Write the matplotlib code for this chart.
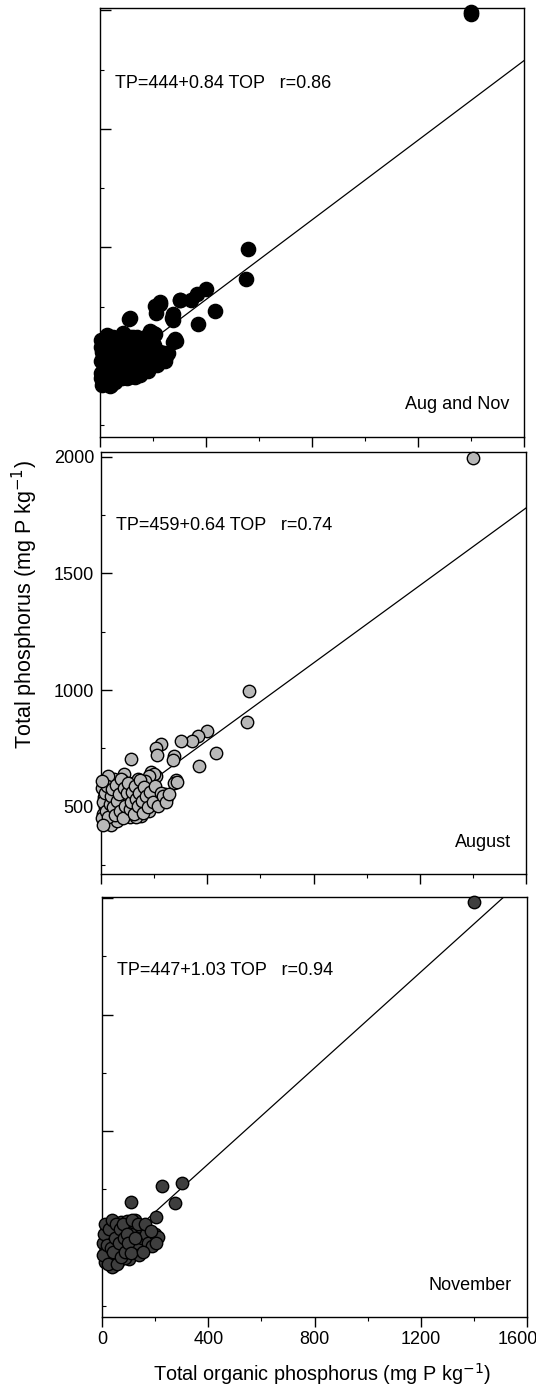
import matplotlib
matplotlib.use("Agg")
import matplotlib.pyplot as plt
from matplotlib.ticker import MultipleLocator
from matplotlib.transforms import ScaledTranslation
import numpy as np

plt.rcParams['font.family'] = ['Liberation Sans', 'DejaVu Sans']

# ---------------- data ----------------
aug_top = [1400, 557, 550, 433, 399, 365, 343, 301, 226, 207, 211, 275, 271, 113, 369,
           282, 275, 285, 207, 188, 200, 180,
           5, 10, 15, 8, 20, 12, 25, 30, 35, 40, 45, 50, 55, 60, 65, 70, 75, 80, 85, 90,
           95, 100, 105, 110, 115, 120, 125, 130, 135, 140, 145, 150, 155, 160, 165, 170,
           175, 180, 190, 200, 210, 220, 230, 240, 250, 38, 60, 18, 28, 88, 70, 112, 150,
           22, 48, 78, 132, 168,
           3, 7, 14, 18, 24, 28, 33, 37, 43, 47, 52, 57, 62, 67, 72, 77, 82, 87, 92, 97,
           102, 108, 113, 118, 123, 128, 133, 138, 143, 148, 153, 158, 163, 170, 178, 185,
           195, 205, 215, 225, 235, 245, 255, 3, 8]
aug_tp = [1995, 995, 865, 732, 825, 805, 780, 780, 770, 753, 723, 718, 700, 703, 676,
          613, 600, 605, 634, 647, 640, 630,
          580, 540, 500, 470, 450, 430, 520, 560, 600, 480, 440, 620, 510, 570, 460, 530,
          590, 495, 550, 610, 470, 520, 580, 455, 540, 600, 500, 560, 470, 620, 530, 590,
          490, 550, 610, 510, 570, 480, 540, 560, 520, 545, 530, 555, 540, 423, 440, 610,
          630, 640, 500, 480, 460, 560, 585, 615, 455, 525,
          450, 520, 560, 480, 590, 455, 510, 545, 575, 500, 465, 595, 525, 555, 480, 620,
          450, 580, 505, 560, 600, 490, 520, 565, 470, 590, 535, 505, 560, 615, 525, 475,
          585, 545, 500, 565, 520, 590, 505, 560, 545, 520, 555, 610, 420]

nov_top = [1400, 301, 226, 109, 275, 203, 196, 180,
           5, 10, 15, 20, 25, 30, 35, 40, 45, 50, 55, 60, 65, 70, 75, 80, 85, 90, 95, 100,
           105, 110, 115, 120, 125, 130, 140, 145, 150, 165, 175, 190, 200, 210, 60, 30, 12,
           38, 85, 118,
           3, 8, 13, 18, 23, 28, 33, 38, 43, 48, 53, 58, 63, 68, 73, 78, 83, 88, 93, 98,
           108, 113, 123, 135, 155, 160, 185, 205]
nov_tp = [1985, 778, 763, 697, 692, 630, 553, 545,
          520, 480, 560, 450, 500, 540, 470, 420, 590, 510, 460, 560, 490, 610, 530, 470,
          580, 510, 615, 450, 550, 600, 490, 570, 620, 520, 470, 590, 540, 560, 520, 505,
          560, 545, 440, 600, 440, 417, 455, 610,
          470, 560, 600, 510, 430, 580, 500, 620, 480, 540, 600, 430, 520, 580, 460, 600,
          540, 480, 560, 520, 475, 620, 540, 600, 480, 600, 570, 520]

# panel order: Aug and Nov, August, November
panel_labels = ["Aug and Nov", "August", "November"]
equations = ["TP=444+0.84 TOP   r=0.86", "TP=459+0.64 TOP   r=0.74", "TP=447+1.03 TOP   r=0.94"]
line_intercepts = [444, 452, 447]   # fitted lines as drawn
line_slopes = [0.84, 0.83, 1.03]

x_ticks = [0, 400, 800, 1200, 1600]
y_ticks = [500, 1000, 1500, 2000]
x_label = "Total organic phosphorus (mg P kg$^{-1}$)"
y_label = "Total phosphorus (mg P kg$^{-1}$)"

# ---------------- figure ----------------
W, H = 536, 1387
fig = plt.figure(figsize=(W / 100, H / 100), dpi=100)


def box(l, t, r, b):
    return [l / W, 1 - b / H, (r - l) / W, (b - t) / H]


axes = [fig.add_axes(box(100, 8, 524, 437)),
        fig.add_axes(box(101, 452, 526, 874)),
        fig.add_axes(box(102, 897, 527, 1317))]
ylims = [(200, 2010), (212, 2020), (202, 2005)]

series = [
    (aug_top + nov_top, aug_tp + nov_tp, "black", 105),
    (aug_top, aug_tp, "#b8b8b8", 80),
    (nov_top, nov_tp, "#3e3e3e", 80),
]

for i, ax in enumerate(axes):
    xs, ys, col, s = series[i]
    xl = np.array([0, 1600])
    ax.plot(xl, line_intercepts[i] + line_slopes[i] * xl, color="black", lw=0.9, zorder=2)
    ax.scatter(xs, ys, s=s, c=col, edgecolors="black", linewidths=1.0, zorder=3,
               clip_on=False)
    ax.set_xlim(0, 1600)
    ax.set_ylim(*ylims[i])
    ax.xaxis.set_major_locator(MultipleLocator(400))
    ax.xaxis.set_minor_locator(MultipleLocator(200))
    ax.yaxis.set_major_locator(MultipleLocator(500))
    ax.yaxis.set_minor_locator(MultipleLocator(250))
    ax.tick_params(axis="x", which="major", direction="out", length=7, width=1.0,
                   labelsize=13, pad=3)
    ax.tick_params(axis="x", which="minor", direction="out", length=3, width=0.8)
    ax.tick_params(axis="y", which="major", direction="in", length=8, width=1.0,
                   labelsize=13, pad=5)
    ax.tick_params(axis="y", which="minor", direction="in", length=3, width=0.8)
    for sp in ax.spines.values():
        sp.set_linewidth(1.0)
    ax.text(0.035, 0.825, equations[i], transform=ax.transAxes, fontsize=13,
            ha="left", va="center")
    ax.text(0.965, 0.075, panel_labels[i], transform=ax.transAxes, fontsize=13,
            ha="right", va="center")
    if i == 1:
        ax.set_yticks(y_ticks)
    else:
        ax.set_yticklabels([])
    if i == 2:
        ax.set_xticks(x_ticks)
    else:
        ax.set_xticklabels([])

fig.canvas.draw()
last = axes[2].get_xticklabels()[-1]
last.set_transform(last.get_transform() + ScaledTranslation(-9 / 100, 0, fig.dpi_scale_trans))

fig.text(322 / W, 1 - 1374 / H, x_label, ha="center", va="center", fontsize=14.3)
fig.text(25 / W, 1 - 605 / H, y_label, ha="center", va="center", fontsize=15.5,
         rotation=90)

fig.savefig("out.png", dpi=100)
